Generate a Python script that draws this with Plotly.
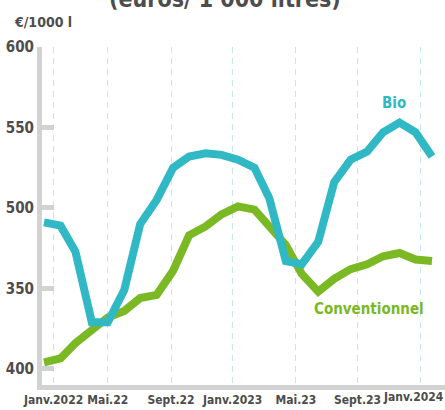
import plotly.graph_objects as go

months = ["2022-01-01", "2022-02-01", "2022-03-01", "2022-04-01", "2022-05-01", "2022-06-01",
          "2022-07-01", "2022-08-01", "2022-09-01", "2022-10-01", "2022-11-01", "2022-12-01",
          "2023-01-01", "2023-02-01", "2023-03-01", "2023-04-01", "2023-05-01", "2023-06-01",
          "2023-07-01", "2023-08-01", "2023-09-01", "2023-10-01", "2023-11-01", "2023-12-01",
          "2024-01-01"]

bio = [491, 489, 473, 429, 429, 449, 490, 505, 525, 532, 534, 533,
       530, 525, 506, 467, 465, 479, 516, 530, 535, 547, 553, 547, 532]

conventionnel = [404, 406.5, 416, 424, 432, 436, 444, 446, 461, 483, 488.5, 496,
                 501, 499, 488.5, 477, 459, 448, 456, 462, 465, 470, 472, 468, 467]

x_tick_labels = ["Janv.2022", "Mai.22", "Sept.22", "Janv.2023", "Mai.23", "Sept.23", "Janv.2024"]
x_tick_pos = ["2022-01-19", "2022-05-01", "2022-08-28", "2022-12-22", "2023-04-20", "2023-08-14", "2023-12-11"]

y_tick_vals = [600, 550, 500, 450, 400]
y_tick_labels = ["600", "550", "500", "350", "400"]

BIO_COL = "#30b8c4"
CONV_COL = "#7ab924"
AXIS_COL = "#d2d2d2"
TEXT_COL = "#4d4d4d"
FONT = "Liberation Sans Narrow, DejaVu Sans Condensed, Roboto, sans-serif"

fig = go.Figure()
fig.add_trace(go.Scatter(x=months, y=conventionnel, mode="lines", name="Conventionnel",
                         line=dict(color=CONV_COL, width=8), showlegend=False))
fig.add_trace(go.Scatter(x=months, y=bio, mode="lines", name="Bio",
                         line=dict(color=BIO_COL, width=8), showlegend=False))

# last tick label is drawn as a right-aligned annotation so it stays inside the page
shown_ticktext = x_tick_labels[:-1] + [""]

fig.update_layout(
    width=445, height=410,
    margin=dict(l=42, r=0, t=47, b=25, autoexpand=False),
    paper_bgcolor="white", plot_bgcolor="white",
    font=dict(family=FONT, color=TEXT_COL),
    xaxis=dict(
        type="date", automargin=False,
        range=["2021-12-28 06:00", "2024-01-25 12:00"],
        tickvals=x_tick_pos, ticktext=shown_ticktext, tickangle=0,
        ticklabeloverflow="allow",
        tickfont=dict(size=12, weight="bold", color=TEXT_COL, family=FONT),
        showgrid=True, gridcolor="#c6e5ec", gridwidth=1, griddash="6px,5px",
        showline=True, linecolor=AXIS_COL, linewidth=5,
        ticks="", zeroline=False,
    ),
    yaxis=dict(
        automargin=False,
        range=[390, 600],
        tickvals=y_tick_vals, ticktext=y_tick_labels,
        tickfont=dict(size=15, weight="bold", color=TEXT_COL, family=FONT),
        showgrid=False, zeroline=False,
        showline=True, linecolor=AXIS_COL, linewidth=5,
        ticks="inside", ticklen=12, tickwidth=5, tickcolor=AXIS_COL,
    ),
    annotations=[
        dict(text="(euros/ 1 000 litres)", xref="paper", yref="paper", x=0.455, y=1.097,
             xanchor="center", yanchor="bottom", showarrow=False,
             font=dict(size=23, weight="bold", color=TEXT_COL, family=FONT)),
        dict(text="€/1000 l", xref="paper", yref="paper", x=-0.0744, y=1.074,
             xanchor="left", yanchor="middle", showarrow=False,
             font=dict(size=14, weight="bold", color=TEXT_COL, family=FONT)),
        dict(text="Bio", xref="paper", yref="paper", x=0.873, y=0.834,
             xanchor="center", yanchor="middle", showarrow=False,
             font=dict(size=15, weight="bold", color=BIO_COL, family=FONT)),
        dict(text="Conventionnel", xref="paper", yref="paper", x=0.811, y=0.225,
             xanchor="center", yanchor="middle", showarrow=False,
             font=dict(size=15, weight="bold", color=CONV_COL, family=FONT)),
        dict(text=x_tick_labels[-1], xref="paper", yref="paper", x=1.0, y=-0.035,
             xanchor="right", yanchor="middle", showarrow=False, borderpad=0,
             font=dict(size=12, weight="bold", color=TEXT_COL, family=FONT)),
    ],
)

fig.write_html("out.html", config={"displayModeBar": False},
               post_script="document.body.style.margin='0';")
